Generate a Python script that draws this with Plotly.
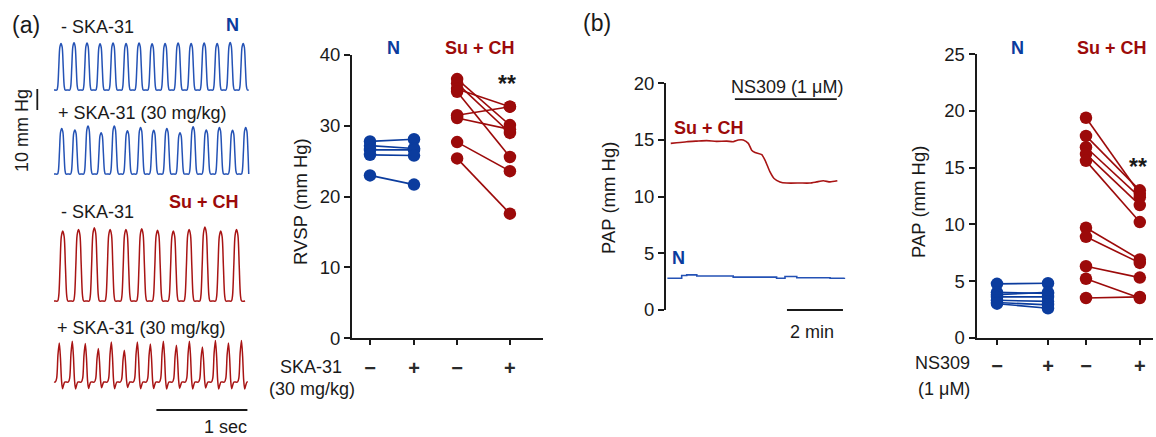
import plotly.graph_objects as go

W, H = 1156, 437
FONT = "Liberation Sans, Arial, sans-serif"
INK = "#1a1a1a"
BLUE = "#0b3c9e"
BLUE_TR = "#2452b5"
RED = "#9c0a0a"
RED_TR = "#a81414"

# ---------------- data ----------------
# (a) RV pressure recordings: systolic amplitude of each beat (mmHg above diastolic)
N_CTRL_PEAKS = [22.2, 22.5, 22.4, 22.0, 22.4, 22.2, 22.4, 22.0, 22.2, 22.4, 22.2, 22.4, 22.2, 22.6, 22.2]
N_SKA_PEAKS = [21.7, 21.0, 22.9, 19.7, 22.9, 20.6, 22.2, 20.8, 21.7, 19.7, 22.5, 21.0, 22.2, 20.8, 22.2]
SU_CTRL_PEAKS = [33.3, 34.1, 34.9, 34.1, 34.1, 34.4, 33.7, 33.3, 34.1, 35.2, 33.3, 34.0]
SU_SKA_PEAKS = [18.6, 19.4, 18.3, 15.9, 19.0, 15.1, 19.0, 18.1, 19.4, 17.5, 19.4, 16.7, 19.8, 18.6, 19.8]
# beat timing (s): first peak, beat period, record start, record end
N_CTRL_TIMING = [0.077, 0.143, 0.0, 2.14]
N_SKA_TIMING = [0.085, 0.1444, 0.0, 2.14]
SU_CTRL_TIMING = [0.096, 0.1736, 0.0, 2.10]
SU_SKA_TIMING = [0.058, 0.143, 0.0, 2.13]
# beat waveform templates (phase within a beat relative to the peak, relative pressure)
PULSE_PHASE = [-0.50, -0.32, -0.25, -0.17, -0.09, 0.0, 0.09, 0.17, 0.25, 0.32]
PULSE_SHAPE = [0.0, 0.0, 0.08, 0.5, 0.92, 1.0, 0.92, 0.5, 0.08, 0.0]
NOTCH_PHASE = [-0.50, -0.30, -0.20, -0.10, 0.0, 0.09, 0.17, 0.25, 0.33, 0.42]
NOTCH_SHAPE = [0.0, 0.0, 0.1, 0.7, 1.0, 0.62, 0.05, -0.17, -0.08, 0.0]

# RVSP paired data (mmHg), - / + SKA-31
RVSP_N_CTRL = [27.8, 27.2, 26.6, 25.9, 23.0]
RVSP_N_SKA = [28.1, 26.8, 26.6, 25.8, 21.7]
RVSP_SU_CTRL = [36.6, 36.0, 35.2, 34.8, 31.5, 31.1, 27.7, 25.4]
RVSP_SU_SKA = [30.1, 29.0, 32.7, 25.6, 32.7, 29.5, 23.6, 17.6]

# (b) PAP recording (time in min, PAP in mmHg)
PAP_SU_TIME = [0.17, 0.38, 0.74, 1.1, 1.45, 1.8, 2.17, 2.4, 2.58, 2.76, 2.94, 3.06, 3.18,
               3.42, 3.54, 3.71, 3.86, 4.07, 4.31, 4.79, 5.14, 5.38, 5.62, 5.86, 6.12]
PAP_SU = [14.7, 14.76, 14.85, 14.9, 14.94, 14.88, 14.9, 14.85, 15.0, 15.0, 14.7, 14.1, 13.9,
          13.7, 13.2, 12.2, 11.6, 11.3, 11.2, 11.2, 11.2, 11.3, 11.4, 11.3, 11.4]
PAP_N_TIME = [0.05, 0.44, 0.56, 0.74, 0.98, 1.1, 2.05, 2.4, 3.6, 3.95, 4.13, 4.25, 4.55,
              4.67, 5.5, 5.86, 6.37]
PAP_N = [2.8, 2.8, 3.05, 3.1, 3.1, 3.0, 3.0, 2.9, 2.9, 2.8, 2.8, 2.95, 2.95, 2.85, 2.85, 2.8, 2.85]
NS309_ON = [2.46, 6.1]  # min

# PAP paired data (mmHg), - / + NS309
PAP_N_CTRL = [4.75, 4.0, 3.8, 3.6, 3.3, 3.1, 3.0]
PAP_N_NS = [4.8, 3.9, 4.0, 3.6, 3.2, 2.9, 2.6]
PAP_SU_CTRL = [19.4, 17.8, 16.8, 16.2, 15.6, 9.7, 8.9, 6.3, 5.2, 3.5]
PAP_SU_NS = [12.7, 13.0, 12.4, 11.7, 10.2, 6.9, 6.6, 5.3, 3.5, 3.6]

TICK_SIGNS = ["<b>\u2212</b>", "<b>+</b>", "<b>\u2212</b>", "<b>+</b>"]

# ---------------- layout helpers ----------------
def px(x):
    return x / W


def py(y):
    return 1 - y / H


# trace panel (a): 2.1 px per mmHg, 91 px per second
MM_PX = 2.1
SEC_PX = 91.0
T0_PX = 54.0
OFFSETS = {"nc": (H - 90) / MM_PX, "ns": (H - 174) / MM_PX,
           "sc": (H - 301) / MM_PX, "ss": (H - 382) / MM_PX}


def build_trace(timing, peaks, phase, shape, offset):
    first, period, t_start, t_end = timing
    t, y = [t_start], [offset]
    for i, p in enumerate(peaks):
        c = first + i * period
        for ph, s in zip(phase, shape):
            tt = c + ph * period
            if t_start < tt < t_end:
                t.append(tt)
                y.append(offset + s * p)
    t.append(t_end)
    y.append(offset)
    return t, y


fig = go.Figure()

for timing, peaks, ph, sh, key, col in [
    (N_CTRL_TIMING, N_CTRL_PEAKS, PULSE_PHASE, PULSE_SHAPE, "nc", BLUE_TR),
    (N_SKA_TIMING, N_SKA_PEAKS, PULSE_PHASE, PULSE_SHAPE, "ns", BLUE_TR),
    (SU_CTRL_TIMING, SU_CTRL_PEAKS, PULSE_PHASE, PULSE_SHAPE, "sc", RED_TR),
    (SU_SKA_TIMING, SU_SKA_PEAKS, NOTCH_PHASE, NOTCH_SHAPE, "ss", RED_TR),
]:
    t, y = build_trace(timing, peaks, ph, sh, OFFSETS[key])
    fig.add_trace(go.Scatter(x=t, y=y, mode="lines", xaxis="x", yaxis="y",
                             line=dict(color=col, width=1.5, shape="spline", smoothing=0.8),
                             hoverinfo="skip"))

# paired dot plots
RVSP_POS = [1, 2, 2.98, 4.18]
PAP_POS = [1, 2, 2.745, 3.8]


def add_pairs(a, b, xa, xb, color, xref, yref):
    for va, vb in zip(a, b):
        fig.add_trace(go.Scatter(x=[xa, xb], y=[va, vb], mode="lines+markers",
                                 xaxis=xref, yaxis=yref, cliponaxis=False,
                                 line=dict(color=color, width=1.6),
                                 marker=dict(color=color, size=12.5)))


add_pairs(RVSP_N_CTRL, RVSP_N_SKA, RVSP_POS[0], RVSP_POS[1], BLUE, "x2", "y2")
add_pairs(RVSP_SU_CTRL, RVSP_SU_SKA, RVSP_POS[2], RVSP_POS[3], RED, "x2", "y2")
add_pairs(PAP_N_CTRL, PAP_N_NS, PAP_POS[0], PAP_POS[1], BLUE, "x4", "y4")
add_pairs(PAP_SU_CTRL, PAP_SU_NS, PAP_POS[2], PAP_POS[3], RED, "x4", "y4")

# PAP recording
fig.add_trace(go.Scatter(x=PAP_SU_TIME, y=PAP_SU, mode="lines", xaxis="x3", yaxis="y3",
                         line=dict(color=RED_TR, width=1.6, shape="spline", smoothing=0.5)))
fig.add_trace(go.Scatter(x=PAP_N_TIME, y=PAP_N, mode="lines", xaxis="x3", yaxis="y3",
                         line=dict(color=BLUE_TR, width=1.6, shape="hv")))

TICK_FONT = dict(family=FONT, size=18.5, color=INK)
SIGN_FONT = dict(family=FONT, size=20, color="#2a2a2a")
axis_common = dict(showgrid=False, zeroline=False, showline=True, linewidth=2, linecolor=INK,
                   ticks="outside", ticklen=6, tickwidth=2, tickcolor=INK, automargin=False,
                   tickfont=TICK_FONT, fixedrange=True)

# axes geometry (pixels)
RV_X0, RV_X1, RV_TICK1, RV_UNIT = 352, 543, 370, 44.0
PAP_X0, PAP_X1, PAP_TICK1, PAP_UNIT = 976.5, 1153, 997, 51.0
TR_X0, TR_X1, TR_MIN_PX = 666, 846, 28.0

fig.update_layout(
    width=W, height=H, margin=dict(l=0, r=0, t=0, b=0, pad=0), autosize=False,
    paper_bgcolor="white", plot_bgcolor="rgba(0,0,0,0)", showlegend=False,
    font=dict(family=FONT, size=18, color=INK),
    xaxis=dict(domain=[0, px(260)], range=[-T0_PX / SEC_PX, (260 - T0_PX) / SEC_PX],
               visible=False, fixedrange=True, automargin=False),
    yaxis=dict(domain=[0, 1], range=[0, H / MM_PX], visible=False, fixedrange=True,
               automargin=False),
    xaxis2=dict(domain=[px(RV_X0), px(RV_X1)], anchor="y2",
                range=[1 - (RV_TICK1 - RV_X0) / RV_UNIT, 1 + (RV_X1 - RV_TICK1) / RV_UNIT],
                tickvals=RVSP_POS, ticktext=TICK_SIGNS, ticklabelstandoff=6,
                **{**axis_common, "ticklen": 5, "tickfont": SIGN_FONT}),
    yaxis2=dict(domain=[py(338.3), py(55)], anchor="x2", range=[0, 40],
                tickvals=[0, 10, 20, 30, 40], **axis_common),
    xaxis3=dict(domain=[px(TR_X0), px(TR_X1)], anchor="y3",
                range=[0, (TR_X1 - TR_X0) / TR_MIN_PX], visible=False, fixedrange=True,
                automargin=False),
    yaxis3=dict(domain=[py(310), py(83.3)], anchor="x3", range=[0, 20],
                tickvals=[0, 5, 10, 15, 20], **axis_common),
    xaxis4=dict(domain=[px(PAP_X0), px(PAP_X1)], anchor="y4",
                range=[1 - (PAP_TICK1 - PAP_X0) / PAP_UNIT, 1 + (PAP_X1 - PAP_TICK1) / PAP_UNIT],
                tickvals=PAP_POS, ticktext=TICK_SIGNS, ticklabelstandoff=4,
                **{**axis_common, "ticklen": 5, "tickfont": SIGN_FONT}),
    yaxis4=dict(domain=[py(337.7), py(54.3)], anchor="x4", range=[0, 25],
                tickvals=[0, 5, 10, 15, 20, 25], **axis_common),
)

# scale bars
fig.add_shape(type="line", xref="x", yref="y", x0=(156.4 - T0_PX) / SEC_PX,
              x1=(156.4 - T0_PX) / SEC_PX + 1.0, y0=(H - 410) / MM_PX, y1=(H - 410) / MM_PX,
              line=dict(color=INK, width=1.8))
fig.add_shape(type="line", xref="x", yref="y", x0=(37.3 - T0_PX) / SEC_PX,
              x1=(37.3 - T0_PX) / SEC_PX, y0=(H - 110) / MM_PX, y1=(H - 110) / MM_PX + 10,
              line=dict(color=INK, width=1.8))
fig.add_shape(type="line", xref="x3", yref="y3", x0=NS309_ON[0], x1=NS309_ON[1],
              y0=18.6, y1=18.6, line=dict(color=INK, width=1.8))
two_min_start = 4.32
fig.add_shape(type="line", xref="paper", yref="paper",
              x0=px(TR_X0 + two_min_start * TR_MIN_PX), x1=px(TR_X0 + (two_min_start + 2) * TR_MIN_PX),
              y0=py(310), y1=py(310), line=dict(color=INK, width=1.8))


def ann(text, x, y, size=18, color=INK, bold=False, xanchor="center", angle=0):
    t = f"<b>{text}</b>" if bold else text
    fig.add_annotation(text=t, x=px(x), y=py(y), xref="paper", yref="paper",
                       xanchor=xanchor, yanchor="middle", showarrow=False, textangle=angle,
                       font=dict(family=FONT, size=size, color=color))


# panel (a) labels
ann("(a)", 26, 25, size=23)
ann("- SKA-31", 59, 27, xanchor="left")
ann("N", 232, 25, color=BLUE, bold=True)
ann("+ SKA-31 (30 mg/kg)", 56, 113, xanchor="left")
ann("Su + CH", 204, 202, color=RED, bold=True)
ann("- SKA-31", 59, 212, xanchor="left")
ann("+ SKA-31 (30 mg/kg)", 55, 328, xanchor="left")
ann("1 sec", 225, 427)
ann("10 mm Hg", 22, 131, angle=-90)

# RVSP labels
ann("RVSP (mm Hg)", 300, 202, size=18.5, angle=-90)
ann("N", 393, 48, color=BLUE, bold=True)
ann("Su + CH", 480, 48, color=RED, bold=True)
ann("**", 507, 84, size=23, bold=True)
ann("SKA-31", 344, 367, xanchor="right")
ann("(30 mg/kg)", 357, 389, xanchor="right")

# panel (b) labels
ann("(b)", 597, 23, size=23)
ann("NS309 (1 \u03bcM)", 787, 87)
ann("Su + CH", 672, 128, color=RED, bold=True, xanchor="left")
ann("N", 678, 258, color=BLUE, bold=True)
ann("2 min", 812, 332)
ann("PAP (mm Hg)", 608, 198, size=18.5, angle=-90)

# PAP dot plot labels
ann("PAP (mm Hg)", 918, 202, size=18.5, angle=-90)
ann("N", 1017, 48, color=BLUE, bold=True)
ann("Su + CH", 1112, 48, color=RED, bold=True)
ann("**", 1138, 167, size=23, bold=True)
ann("NS309", 972, 363, xanchor="right")
ann("(1 \u03bcM)", 972, 389, xanchor="right")

fig.write_html("out.html", config={"displayModeBar": False},
               post_script="document.body.style.margin='0';document.body.style.overflow='hidden';")
